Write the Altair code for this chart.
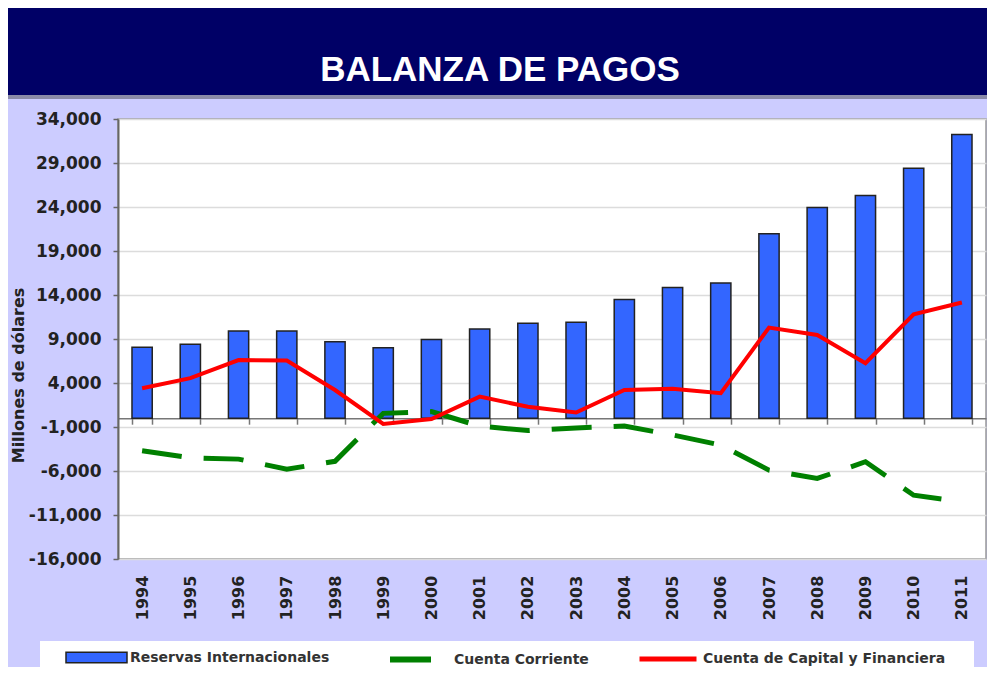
import altair as alt
import pandas as pd

# ---------------- data ----------------
years = [str(y) for y in range(1994, 2012)]
reservas = [8050, 8400, 9900, 9900, 8700, 8000, 8950, 10150, 10800, 10900,
            13500, 14850, 15350, 20950, 23950, 25300, 28400, 32250]
corriente = [-3700, -4500, -4650, -5800, -4900, 550, 750, -900, -1400, -1100,
             -900, -1900, -3050, -5900, -6850, -4950, -8750, -9500]
capital = [3400, 4550, 6600, 6550, 3200, -650, -100, 2450, 1300, 650,
           3200, 3350, 2850, 10300, 9450, 6250, 11800, 13150]
y_ticks = list(range(-16000, 34001, 5000))

S_RES = "Reservas Internacionales"
S_COR = "Cuenta Corriente"
S_CAP = "Cuenta de Capital y Financiera"

FONT = "DejaVu Sans"
GREEN = "#008000"

df_res = pd.DataFrame({"year": years, "valor": reservas, "serie": S_RES})
df_cor = pd.DataFrame({"year": years, "valor": corriente, "serie": S_COR})
df_cap = pd.DataFrame({"year": years, "valor": capital, "serie": S_CAP})

W, H = 868, 440

xscale = alt.Scale(domain=years, paddingInner=0.58, paddingOuter=0.29)
yscale = alt.Scale(domain=[-16000, 34000], nice=False, zero=False)

x_axis = alt.Axis(
    title=None, offset=-140.8, grid=False,
    domainColor="#777777", domainWidth=1.5,
    tickColor="#777777", tickSize=6, tickWidth=1.5, tickBand="extent",
    labelAngle=270, labelPadding=151, labelFont=FONT, labelFontSize=16,
    labelFontWeight="bold", labelColor="#222222",
)
y_axis = alt.Axis(
    title="Millones de dólares", values=y_ticks, format=",d",
    labelExpr="replace(datum.label, '\u2212', '-')",
    labelFont=FONT, labelFontSize=17, labelFontWeight="bold", labelColor="#222222",
    labelPadding=12, tickSize=5, tickColor="#666666", tickWidth=1.5,
    domainColor="#666666", domainWidth=2,
    grid=True, gridColor="#dcdcdc", gridWidth=1.5,
    titleFont=FONT, titleFontSize=16, titleFontWeight="bold", titleColor="#222222",
    titleX=-100, titleY=256, titleAngle=270, titleAlign="center", titleBaseline="middle",
)

leg_common = dict(orient="none", title=None, padding=0, labelFont=FONT, labelFontSize=14,
                  labelFontWeight="bold", labelColor="#333333", labelLimit=400)

deco = alt.Data(values=[{"a": 1}])
title_band = alt.Chart(deco).mark_rect(color="#000066").encode(
    x=alt.value(-110), x2=alt.value(W + 1), y=alt.value(-111), y2=alt.value(-24))
shadow = alt.Chart(deco).mark_rect(color="#8a8aa8").encode(
    x=alt.value(-110), x2=alt.value(W + 1), y=alt.value(-24), y2=alt.value(-20))
legend_box = alt.Chart(deco).mark_rect(color="white").encode(
    x=alt.value(-78), x2=alt.value(856), y=alt.value(522), y2=alt.value(H + 108))

bars = alt.Chart(df_res).mark_bar(stroke="#222222", strokeWidth=1.5).encode(
    x=alt.X("year:O", scale=xscale, axis=x_axis),
    y=alt.Y("valor:Q", scale=yscale, axis=y_axis),
    color=alt.Color("serie:N", scale=alt.Scale(domain=[S_RES], range=["#3366FF"]),
                    legend=alt.Legend(legendX=-53, legendY=507,
                                      symbolType="M-1,-0.17H1V0.17H-1Z", symbolSize=3721,
                                      symbolStrokeColor="#222222", symbolStrokeWidth=1.5,
                                      labelOffset=2, **leg_common)),
)

# dashed current-account line (drawn without legend)
line_cor = alt.Chart(df_cor).mark_line(strokeWidth=5, strokeDash=[40, 22], color=GREEN).encode(
    x=alt.X("year:O", scale=xscale),
    y=alt.Y("valor:Q", scale=yscale),
)
# legend entry for the current account (solid swatch, as in the reference)
legend_cor = alt.Chart(df_cor).transform_filter("false").mark_line(strokeWidth=5).encode(
    x=alt.X("year:O", scale=xscale),
    y=alt.Y("valor:Q", scale=yscale),
    color=alt.Color("serie:N", scale=alt.Scale(domain=[S_COR], range=[GREEN]),
                    legend=alt.Legend(legendX=269, legendY=517, symbolType="stroke",
                                      symbolSize=1681, symbolStrokeWidth=6,
                                      labelOffset=20, **leg_common)),
)

line_cap = alt.Chart(df_cap).mark_line(strokeWidth=4).encode(
    x=alt.X("year:O", scale=xscale),
    y=alt.Y("valor:Q", scale=yscale),
    color=alt.Color("serie:N", scale=alt.Scale(domain=[S_CAP], range=["#FF0000"]),
                    legend=alt.Legend(legendX=519, legendY=509, symbolType="stroke",
                                      symbolSize=3249, symbolStrokeWidth=5,
                                      labelOffset=4, **leg_common)),
)

chart = alt.layer(title_band, shadow, legend_box, bars, line_cor, legend_cor, line_cap).resolve_scale(
    color="independent"
).properties(
    width=W, height=H,
    autosize=alt.AutoSizeParams(type="none"),
    padding={"left": 110, "top": 111, "right": 1, "bottom": 108},
    background="#CCCCFF",
    title=alt.TitleParams("BALANZA DE PAGOS", font="Liberation Sans",
                          fontSize=35, fontWeight="bold", color="white", anchor="middle",
                          frame="group", dx=-52, offset=-108, baseline="alphabetic"),
).configure_view(stroke="#999999", strokeWidth=1.5, fill="white")

chart.save("out.html", embed_options={"renderer": "svg", "actions": False})
